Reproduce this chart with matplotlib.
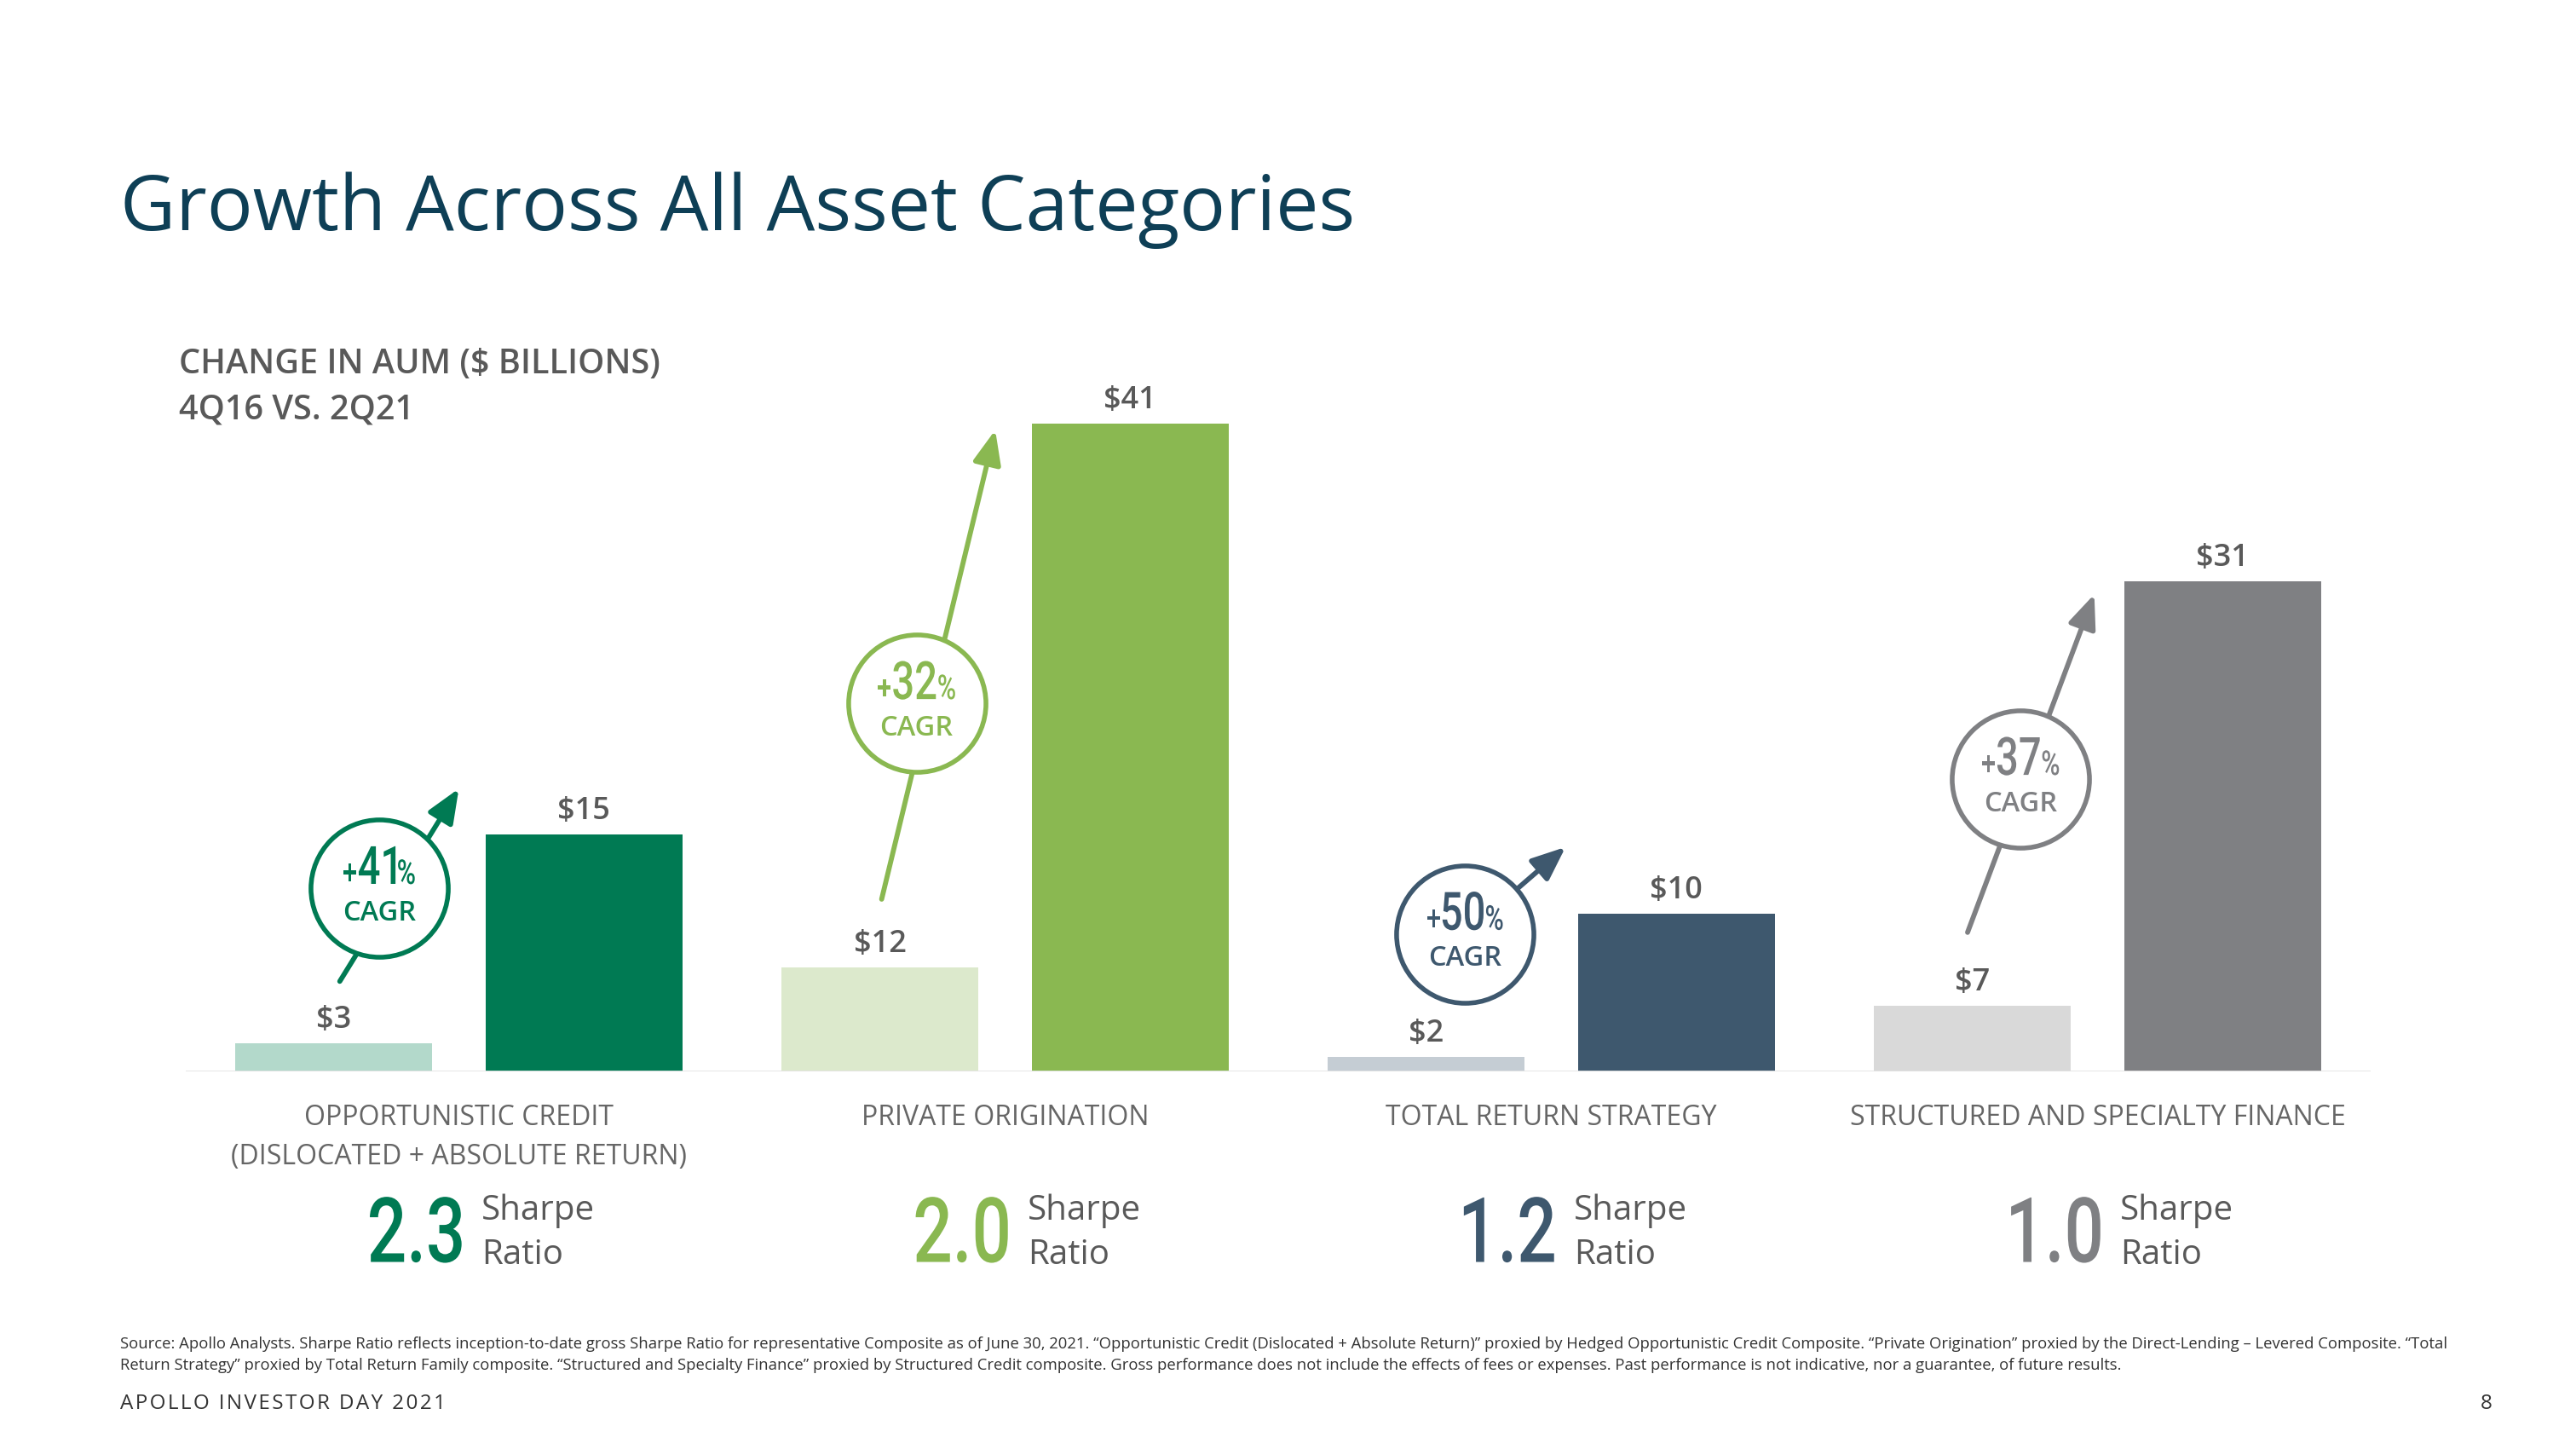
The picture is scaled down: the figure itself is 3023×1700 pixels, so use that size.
import matplotlib
matplotlib.use('Agg')
import matplotlib.pyplot as plt
from matplotlib import font_manager
from matplotlib.font_manager import FontProperties
from matplotlib.textpath import TextPath
from matplotlib.patches import PathPatch
from matplotlib.transforms import blended_transform_factory, Affine2D, IdentityTransform

categories = ['OPPORTUNISTIC CREDIT\n(DISLOCATED + ABSOLUTE RETURN)', 'PRIVATE ORIGINATION',
              'TOTAL RETURN STRATEGY', 'STRUCTURED AND SPECIALTY FINANCE']
aum_4q16 = [3, 12, 2, 7]
aum_2q21 = [15, 41, 10, 31]
# the slide draws the 4Q16 bars shorter than scale; heights as drawn
bar_4q16 = [1.8, 6.6, 0.92, 4.17]
cagr = [41, 32, 50, 37]
sharpe = ['2.3', '2.0', '1.2', '1.0']

colors_after = ['#007A53', '#8AB851', '#3E586E', '#7F8083']
colors_before = ['#B3D9CB', '#DCE9CC', '#C5CDD4', '#D9D9D9']

# CAGR badge layout in data units: circle centre, arrow tail, arrow tip
badge_xy = [(-0.146, 11.6), (0.838, 23.3), (1.842, 8.7), (2.859, 18.5)]
arrow_tail = [(-0.218, 5.7), (0.774, 10.9), (1.842, 8.7), (2.762, 8.8)]
arrow_tip = [(0.0, 17.9), (0.982, 40.6), (2.026, 14.2), (2.994, 30.2)]

names = {f.name for f in font_manager.fontManager.ttflist}
SANS = 'Open Sans' if 'Open Sans' in names else 'DejaVu Sans'
GRAY = '#595959'
plt.rcParams['font.family'] = [SANS, 'DejaVu Sans']
COND_FP = FontProperties(family='Roboto', weight='medium')

fig = plt.figure(figsize=(30.23, 17), dpi=100)
fig.patch.set_facecolor('white')


def cond_text(x, y, pieces, transform, ha='center', sx=0.78, dx=0, dy=0, gap=2):
    # squeezed text (no condensed face installed): pieces = (text, em size px, colour)
    px, py = transform.transform((x, y))
    items, total = [], 0.0
    for s, size, col in pieces:
        tp = TextPath((0, 0), s, size=size, prop=COND_FP)
        ext = tp.get_extents()
        items.append((tp, total - ext.x0 * sx, col))
        total += ext.width * sx + gap
    total -= gap
    start = {'center': px - total / 2, 'right': px - total, 'left': px}[ha] + dx
    for tp, off, col in items:
        tr = Affine2D().scale(sx, 1).translate(start + off, py + dy)
        patch = PathPatch(tr.transform_path(tp), facecolor=col, edgecolor='none',
                          transform=IdentityTransform(), zorder=8)
        fig.add_artist(patch)


# title block
fig.text(0.0465, 0.841, 'Growth Across All Asset Categories', fontsize=64.5, color='#0E3F56',
         ha='left', va='baseline')
fig.text(0.0695, 0.7425, 'CHANGE IN AUM ($ BILLIONS)', fontsize=28.5, color=GRAY,
         fontweight='semibold', ha='left', va='baseline')
fig.text(0.0695, 0.7108, '4Q16 VS. 2Q21', fontsize=28.5, color=GRAY,
         fontweight='semibold', ha='left', va='baseline')

ax = fig.add_axes([0.0721, 0.2606, 0.8482, 0.4906])
ax.set_xlim(-0.5, 3.5)
ax.set_ylim(0, 45)
ax.axis('off')

off = 0.229
w = 0.361
for i in range(4):
    ax.bar(i - off, bar_4q16[i], width=w, color=colors_before[i], zorder=2)
    ax.bar(i + off, aum_2q21[i], width=w, color=colors_after[i], zorder=2)
    for xx, h, v in [(i - off, bar_4q16[i], aum_4q16[i]), (i + off, aum_2q21[i], aum_2q21[i])]:
        ax.annotate(f'${v}', (xx, h), xytext=(0, 13), textcoords='offset points',
                    ha='center', va='baseline', fontsize=26, color=GRAY, fontweight='semibold')

ax.axhline(0, color='#E3E3E3', lw=2, zorder=3)

# CAGR badges
for i in range(4):
    c = colors_after[i]
    ax.annotate('', xy=arrow_tip[i], xytext=arrow_tail[i],
                arrowprops=dict(arrowstyle='-|>,head_length=0.6,head_width=0.25', color=c,
                                lw=4.2, mutation_scale=40, shrinkA=0, shrinkB=0), zorder=4)
    bx, by = badge_xy[i]
    ax.plot(bx, by, marker='o', ms=116, mfc='white', mec=c, mew=4, zorder=5)
    cond_text(bx, by, [('+', 40, c), (str(cagr[i]), 62, c), ('%', 40, c)], ax.transData,
              sx=0.76, dy=5, gap=3)
    ax.annotate('CAGR', (bx, by), xytext=(0, -21), textcoords='offset points', ha='center',
                va='center', fontsize=23.5, color=c, fontweight='semibold', zorder=6)

# category labels and sharpe ratios under the bars
tr = blended_transform_factory(ax.transData, fig.transFigure)
for i in range(4):
    ax.text(i, 0.2385, categories[i], transform=tr, ha='center', va='top', fontsize=23,
            color='#666666', linespacing=1.55)
    cond_text(i + 0.005, 0.1291, [(sharpe[i], 106, colors_after[i])], tr, ha='right', sx=0.77)
    ax.text(i + 0.041, 0.1585, 'Sharpe', transform=tr, ha='left', va='baseline', fontsize=29,
            color=GRAY)
    ax.text(i + 0.041, 0.1275, 'Ratio', transform=tr, ha='left', va='baseline', fontsize=29,
            color=GRAY)

foot1 = ('Source: Apollo Analysts. Sharpe Ratio reflects inception-to-date gross Sharpe Ratio for representative '
         'Composite as of June 30, 2021. \u201cOpportunistic Credit (Dislocated + Absolute Return)\u201d proxied by '
         'Hedged Opportunistic Credit Composite. \u201cPrivate Origination\u201d proxied by the Direct-Lending \u2013 '
         'Levered Composite. \u201cTotal')
foot2 = ('Return Strategy\u201d proxied by Total Return Family composite. \u201cStructured and Specialty Finance\u201d '
         'proxied by Structured Credit composite. Gross performance does not include the effects of fees or '
         'expenses. Past performance is not indicative, nor a guarantee, of future results.')
fig.text(0.0465, 0.0695, foot1, fontsize=13.3, color='#333333', ha='left', va='baseline')
fig.text(0.0465, 0.0548, foot2, fontsize=13.3, color='#333333', ha='left', va='baseline')

fig.text(0.0465, 0.0275, '\u200a'.join('APOLLO INVESTOR DAY 2021'), fontsize=17.5, color='#333333',
         ha='left', va='baseline')
fig.text(0.9675, 0.0275, '8', fontsize=17.5, color='#333333', ha='right', va='baseline')

fig.savefig('out.png', dpi=100, facecolor='white')
